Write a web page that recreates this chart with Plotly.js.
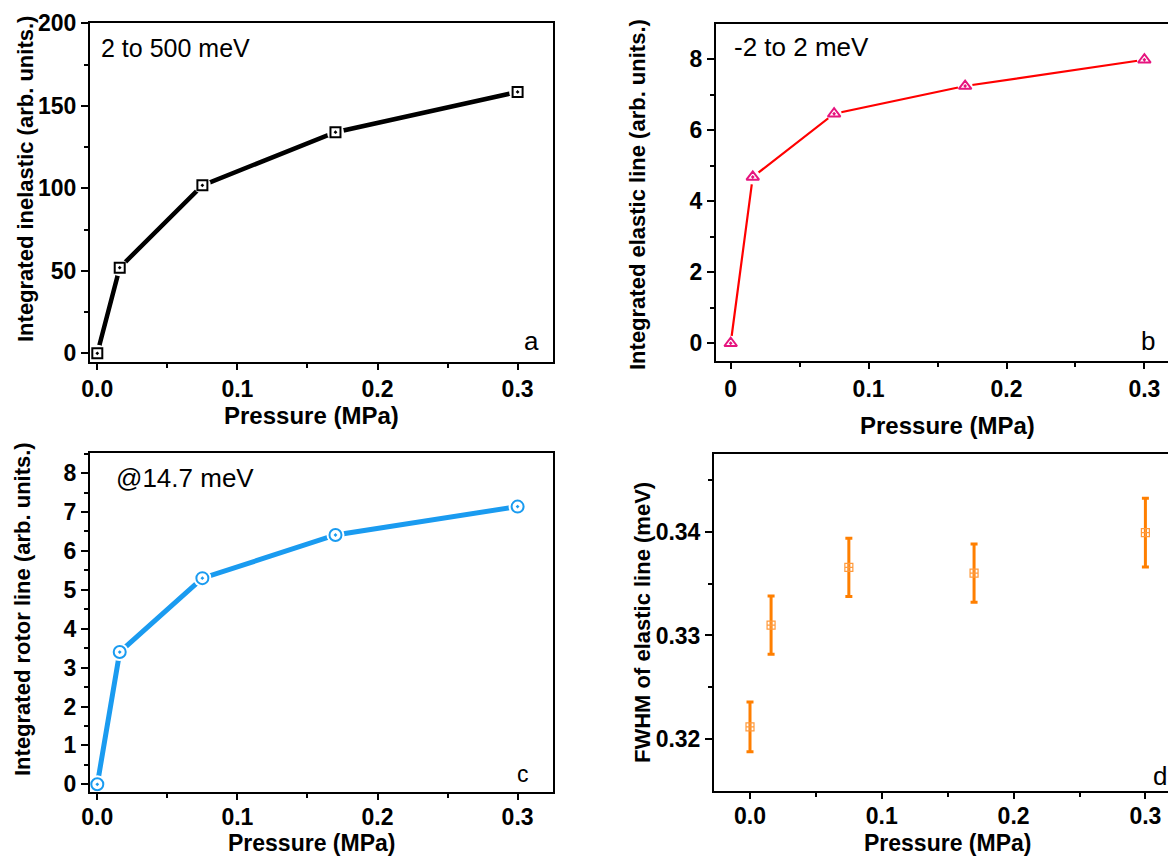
<!DOCTYPE html>
<html>
<head>
<meta charset="utf-8">
<script src="https://cdn.plot.ly/plotly-3.0.1.min.js"></script>
<style>
html,body{margin:0;padding:0;overflow:hidden;background:#fff;}
#chart{width:1190px;height:857px;}
</style>
</head>
<body>
<div id="chart"></div>
<script>
// ---- data ----
const pressure = [0, 0.016, 0.075, 0.17, 0.3];
const inelastic = [0, 51.9, 101.8, 134.0, 158.4];
const elastic = [0, 4.68, 6.46, 7.24, 7.98];
const rotor = [0, 3.40, 5.30, 6.41, 7.14];
const fwhm = [0.3212, 0.3310, 0.33655, 0.3360, 0.3399];
const fwhmErr = [0.0024, 0.0028, 0.0028, 0.0028, 0.0033];

const W = 1190, H = 857;
const FONT = 'Liberation Sans, Arial, Helvetica, sans-serif';
const px = v => v / W;
const py = v => 1 - v / H;

const black = '#000000';
const red = '#FF0000';
const pink = '#E6147E';
const blue = '#1A9BF0';
const orange = '#FF7F00';

function lineTraces(x, y, xa, ya, lineColor, lineW, sym, mColor, mSize, halo) {
  return [
    {x: x, y: y, xaxis: xa, yaxis: ya, mode: 'lines', type: 'scatter',
     line: {color: lineColor, width: lineW}, hoverinfo: 'skip', showlegend: false},
    {x: x, y: y, xaxis: xa, yaxis: ya, mode: 'markers', type: 'scatter',
     marker: {symbol: 'circle', size: halo, color: '#ffffff', line: {width: 0}},
     hoverinfo: 'skip', showlegend: false},
    {x: x, y: y, xaxis: xa, yaxis: ya, mode: 'markers', type: 'scatter',
     marker: {symbol: sym, size: mSize, color: '#ffffff', line: {color: mColor, width: 2}},
     showlegend: false}
  ];
}

const data = [].concat(
  lineTraces(pressure, inelastic, 'x', 'y', black, 4.5, 'square-dot', black, 10, 17),
  lineTraces(pressure, elastic, 'x2', 'y2', red, 2.2, 'triangle-up-dot', pink, 11, 15),
  lineTraces(pressure, rotor, 'x3', 'y3', blue, 5, 'circle-dot', blue, 12, 18),
  [{
    x: pressure, y: fwhm, xaxis: 'x4', yaxis: 'y4', mode: 'markers', type: 'scatter',
    error_y: {type: 'data', array: fwhmErr, visible: true, color: orange, thickness: 3, width: 3.5},
    marker: {symbol: 'square-cross-open', size: 8, color: '#FF9A3C', line: {width: 1.2}},
    showlegend: false
  }]
);

function xAxis(domain, range, anchor, fmt, standoff) {
  return {
    domain: domain, range: range, anchor: anchor,
    showline: true, linecolor: black, linewidth: 2, mirror: true,
    showgrid: false, zeroline: false,
    ticks: 'outside', ticklen: 6, tickwidth: 2, tickcolor: black,
    ticklabelstandoff: standoff || 0,
    tickvals: [0, 0.1, 0.2, 0.3],
    ticktext: fmt,
    minor: {tickvals: [0.05, 0.15, 0.25], ticks: 'outside', ticklen: 4, tickwidth: 2, tickcolor: black, showgrid: false},
    tickfont: {family: FONT, size: 23, color: black, weight: 'bold'},
    fixedrange: true
  };
}
function yAxis(domain, range, anchor, vals, minorDt, texts) {
  const ax = {
    domain: domain, range: range, anchor: anchor,
    showline: true, linecolor: black, linewidth: 2, mirror: true,
    showgrid: false, zeroline: false,
    ticks: 'outside', ticklen: 7, tickwidth: 2, tickcolor: black,
    tickvals: vals,
    minor: {dtick: minorDt, tick0: 0, ticks: 'outside', ticklen: 4, tickwidth: 2, tickcolor: black, showgrid: false},
    tickfont: {family: FONT, size: 23, color: black, weight: 'bold'},
    fixedrange: true
  };
  if (texts) ax.ticktext = texts;
  return ax;
}

const xa = [px(90), px(552.7)];
const xb = [px(716), px(1180)];
const xd = [px(714), px(1180)];

const layout = {
  width: W, height: H,
  margin: {l: 0, r: 0, t: 0, b: 0},
  paper_bgcolor: '#ffffff', plot_bgcolor: '#ffffff',
  showlegend: false,
  xaxis: xAxis(xa, [-0.00521, 0.32505], 'y', ['0.0', '0.1', '0.2', '0.3']),
  yaxis: yAxis([py(361.7), py(23.3)], [-5.1, 200], 'x', [0, 50, 100, 150, 200], 25),
  xaxis2: xAxis(xb, [-0.01066, 0.32582], 'y2', ['0', '0.1', '0.2', '0.3']),
  yaxis2: yAxis([py(361), py(24)], [-0.5, 8.986], 'x2', [0, 2, 4, 6, 8], 1),
  xaxis3: xAxis(xa, [-0.00521, 0.32505], 'y3', ['0.0', '0.1', '0.2', '0.3'], -2),
  yaxis3: yAxis([py(791.7), py(453.3)], [-0.19, 8.51], 'x3', [0, 1, 2, 3, 4, 5, 6, 7, 8], 0.5),
  xaxis4: xAxis(xd, [-0.02731, 0.32625], 'y4', ['0.0', '0.1', '0.2', '0.3'], -2),
  yaxis4: yAxis([py(790.7), py(454)], [0.31506, 0.34747], 'x4', [0.32, 0.33, 0.34], 0.005, ['0.32', '0.33', '0.34']),
  annotations: []
};
layout.yaxis4.minor.tick0 = 0.32;

function ann(text, x, y, size, opts) {
  return Object.assign({
    text: text, xref: 'paper', yref: 'paper', x: px(x), y: py(y),
    xanchor: 'center', yanchor: 'middle', showarrow: false,
    font: {family: FONT, size: size, color: black}
  }, opts || {});
}
const bold = (s) => ({family: FONT, size: s, color: black, weight: 'bold'});

layout.annotations.push(
  // axis titles
  ann('Pressure (MPa)', 311, 415, 24, {font: bold(24)}),
  ann('Pressure (MPa)', 948, 425, 24, {font: bold(24)}),
  ann('Pressure (MPa)', 311, 843, 23, {font: bold(23)}),
  ann('Pressure (MPa)', 948, 843, 23, {font: bold(23)}),
  ann('Integrated inelastic (arb. units.)', 25, 179, 22, {font: bold(22), textangle: -90}),
  ann('Integrated elastic line (arb. units.)', 637, 195, 22, {font: bold(22), textangle: -90}),
  ann('Integrated rotor line (arb. units.)', 22, 609, 22, {font: bold(22), textangle: -90}),
  ann('FWHM of elastic line (meV)', 642, 623, 22, {font: bold(22), textangle: -90}),
  // in-panel notes
  ann('2 to 500 meV', 99, 48, 25, {xanchor: 'left'}),
  ann('-2 to 2 meV', 732, 47, 26, {xanchor: 'left'}),
  ann('@14.7 meV', 114, 478, 26, {xanchor: 'left'}),
  ann('a', 531, 341, 26),
  ann('b', 1148, 341, 26),
  ann('c', 523, 774, 23),
  ann('d', 1160, 776, 26)
);

Plotly.newPlot('chart', data, layout, {displayModeBar: false, staticPlot: true});
</script>
</body>
</html>
